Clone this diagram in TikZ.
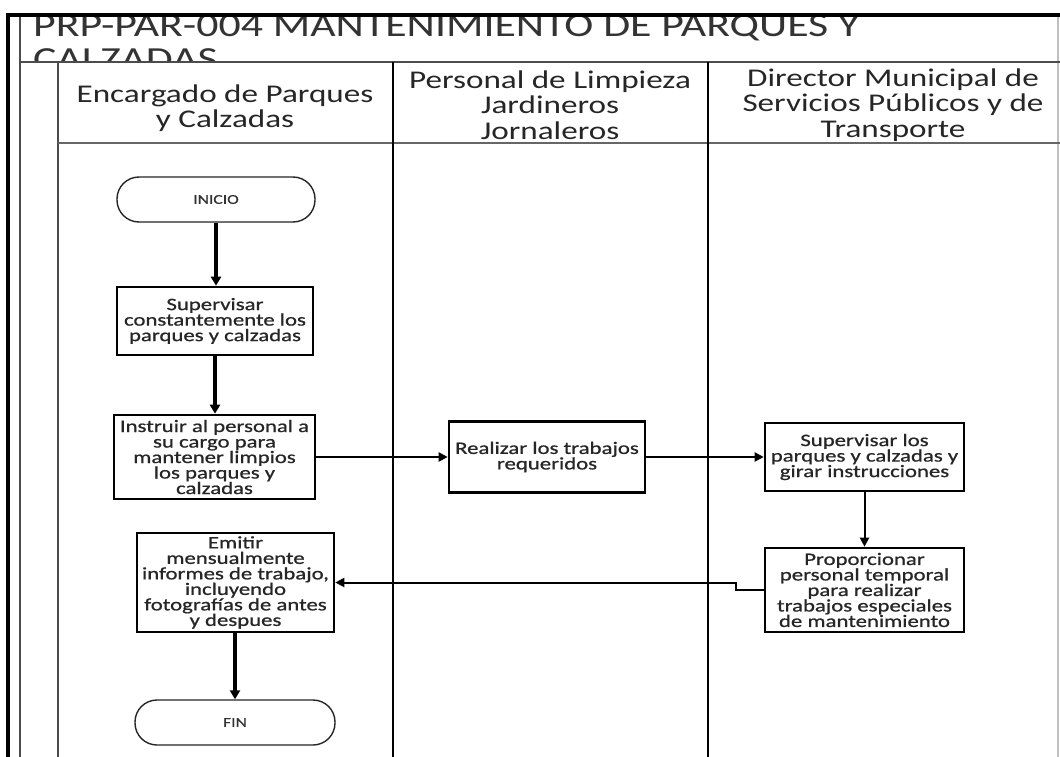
\documentclass[tikz,border=0pt]{standalone}
\usepackage{fontspec}
\setmainfont{Carlito}[FakeStretch=1.3]
\newfontfamily\stepfont{Carlito}[FakeStretch=1.3, FakeBold=0.8]
\usetikzlibrary{arrows.meta}
\begin{document}
\begin{tikzpicture}[x=1pt,y=-1pt,
  rule/.style={line width=2pt, draw=black!70},
  lane/.style={line width=2pt, draw=black},
  title/.style={inner sep=0pt, text=black!80, font=\fontsize{33.7}{35}\selectfont},
  lanehead/.style={align=center, inner sep=0pt, text=black!85, font=\fontsize{25.5}{25.5}\selectfont},
  task/.style={draw=black, line width=2.6pt, fill=white, align=center, inner sep=2pt,
    text=black!85, font=\stepfont\fontsize{17.5}{15.5}\selectfont},
  terminal/.style={draw=black!85, line width=1.4pt, rounded corners=22pt, fill=white,
    minimum width=198pt, minimum height=45pt, inner sep=0pt,
    text=black!80, font=\stepfont\fontsize{13.5}{15}\selectfont},
  flow/.style={line width=2pt, -{Triangle[length=9pt,width=9pt]}},
  mainflow/.style={line width=3.2pt, -{Triangle[length=9pt,width=10pt]}},
]
\useasboundingbox (0,0) rectangle (1060,757);
\fill[white] (0,0) rectangle (1060,757);

% title, cut by the pool frame
\begin{scope}
  \clip (20,17) rectangle (1060,62);
  \node[title, anchor=base west] (title1) at (33,37) {PRP-PAR-004 MANTENIMIENTO DE PARQUES Y};
  \node[title, anchor=base west] (title2) at (33,71) {CALZADAS};
\end{scope}

% pool frame and swim lanes
\draw[line width=1.5pt, draw=black!25] (1058,17) -- (1058,757);
\draw[rule] (20,17) -- (20,757);
\draw[rule] (20,62) -- (1060,62);
\draw[rule] (58,62) -- (58,757);
\draw[line width=1.6pt, draw=black!60] (58,143) -- (1060,143);
\draw[lane] (393,62) -- (393,757);
\draw[lane] (708,62) -- (708,757);
\draw[line width=4pt, draw=black] (8,760) -- (8,15) -- (1064,15);

% lane headers
\node[lanehead] (h1) at (225,108) {Encargado de Parques\\y Calzadas};
\node[lanehead] (h2) at (550,105) {Personal de Limpieza\\Jardineros\\Jornaleros};
\node[lanehead] (h3) at (893,105) {Director Municipal de\\Servicios Públicos y de\\Transporte};

% process steps
\node[terminal] (inicio) at (216,199.5) {INICIO};
\node[task, minimum width=196pt, minimum height=68pt] (sup1) at (215,321)
  {Supervisar\\constantemente los\\parques y calzadas};
\node[task, minimum width=201pt, minimum height=84pt] (instr) at (214.5,457)
  {Instruir al personal a\\su cargo para\\mantener limpios\\los parques y\\calzadas};
\node[task, minimum width=196pt, minimum height=71pt] (real) at (547,457)
  {Realizar los trabajos\\requeridos};
\node[task, minimum width=199pt, minimum height=68pt] (supdir) at (864.5,457)
  {Supervisar los\\parques y calzadas y\\girar instrucciones};
\node[task, minimum width=199pt, minimum height=84pt] (prop) at (864.5,590)
  {Proporcionar\\personal temporal\\para realizar\\trabajos especiales\\de mantenimiento};
\node[task, minimum width=197pt, minimum height=99pt] (emitir) at (235.5,582.5)
  {Emitir\\mensualmente\\informes de trabajo,\\incluyendo\\fotografías de antes\\y despues};
\node[terminal, minimum width=200pt] (fin) at (235,722.5) {FIN};

% connectors
\draw[mainflow] (inicio.south) -- (sup1.north -| inicio.south);
\draw[mainflow] (sup1.south) -- (instr.north -| sup1.south);
\draw[flow] (instr.east) -- (real.west);
\draw[flow] (real.east) -- (supdir.west);
\draw[flow] (supdir.south) -- (prop.north);
\draw[flow] (prop.west) -- ++(-28,0) |- (emitir.east);
\draw[mainflow] (emitir.south -| fin.north) -- (fin.north);
\end{tikzpicture}
\end{document}
